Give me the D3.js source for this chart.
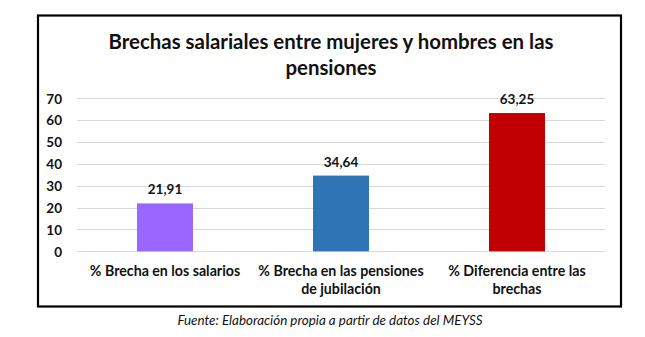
<!DOCTYPE html>
<html><head><meta charset="utf-8">
<script src="https://cdn.jsdelivr.net/npm/d3@7"></script>
<style>
body{margin:0;background:#fff;}
svg{display:block;font-family:Lato,"Open Sans",sans-serif;}
</style></head>
<body><svg id="c" width="645" height="337"></svg>
<script>
const categories = [["% Brecha en los salarios"], ["% Brecha en las pensiones", "de jubilación"], ["% Diferencia entre las", "brechas"]];
const values = [21.91, 34.64, 63.25];
const valueLabels = ["21,91", "34,64", "63,25"];
const barColors = ["#9966FF", "#2E75B6", "#C00000"];
const yTicks = [0, 10, 20, 30, 40, 50, 60, 70];
const titleLines = ["Brechas salariales entre mujeres y hombres en las", "pensiones"];
const source = "Fuente: Elaboración propia a partir de datos del MEYSS";

const svg = d3.select("#c");
const textColor = "#111";
const plot = {left: 77, right: 605, top: 98.3, bottom: 251.3};

svg.append("rect").attr("x", 38).attr("y", 15.5).attr("width", 583).attr("height", 291)
  .attr("fill", "none").attr("stroke", "#000").attr("stroke-width", 2.2);

const x = d3.scaleBand().domain(d3.range(values.length)).range([plot.left, plot.right]).paddingInner(0.682).paddingOuter(0.341);
const y = d3.scaleLinear().domain([0, 70]).range([plot.bottom, plot.top]);

// gridlines
svg.append("g").selectAll("line").data(yTicks).join("line")
  .attr("x1", plot.left).attr("x2", plot.right)
  .attr("y1", d => Math.round(y(d)) + 0.5).attr("y2", d => Math.round(y(d)) + 0.5)
  .attr("stroke", "#d9d9d9").attr("stroke-width", 1);

// y axis labels
const yAxis = d3.axisLeft(y).tickValues(yTicks).tickSize(0).tickPadding(0).tickFormat(d3.format("d"));
const yg = svg.append("g").attr("transform", `translate(62,0)`).call(yAxis);
yg.select(".domain").remove();
yg.selectAll("text").attr("fill", textColor).attr("font-size", 13.5).attr("font-weight", 700)
  .attr("font-family", "Lato, sans-serif").attr("dy", "0.35em");

// bars
svg.append("g").selectAll("rect").data(values).join("rect")
  .attr("x", (d, i) => x(i)).attr("width", x.bandwidth())
  .attr("y", d => y(d)).attr("height", d => y(0) - y(d))
  .attr("fill", (d, i) => barColors[i]);

// value labels
svg.append("g").selectAll("text").data(values).join("text")
  .attr("x", (d, i) => x(i) + x.bandwidth() / 2).attr("y", d => y(d) - 9)
  .attr("text-anchor", "middle").attr("font-size", 13.5).attr("font-weight", 700)
  .attr("fill", textColor).text((d, i) => valueLabels[i]);

// category labels
const cg = svg.append("g").selectAll("text").data(categories).join("text")
  .attr("x", (d, i) => x(i) + x.bandwidth() / 2).attr("y", 275.5)
  .attr("text-anchor", "middle").attr("font-size", 14.2).attr("font-weight", 700).attr("fill", textColor);
cg.selectAll("tspan").data(d => d).join("tspan")
  .attr("x", function() { return this.parentNode.getAttribute("x"); })
  .attr("dy", (d, i) => i === 0 ? 0 : 18.5).text(d => d);

// title
svg.append("g").selectAll("text").data(titleLines).join("text")
  .attr("x", 331).attr("y", (d, i) => 48.5 + i * 26.5)
  .attr("text-anchor", "middle").attr("font-size", 20.4).attr("font-weight", 700)
  .attr("fill", textColor).text(d => d);

// source
svg.append("text").attr("x", 330).attr("y", 324.5).attr("text-anchor", "middle")
  .attr("font-size", 13.4).attr("font-style", "italic").attr("fill", textColor).text(source);
</script></body></html>
